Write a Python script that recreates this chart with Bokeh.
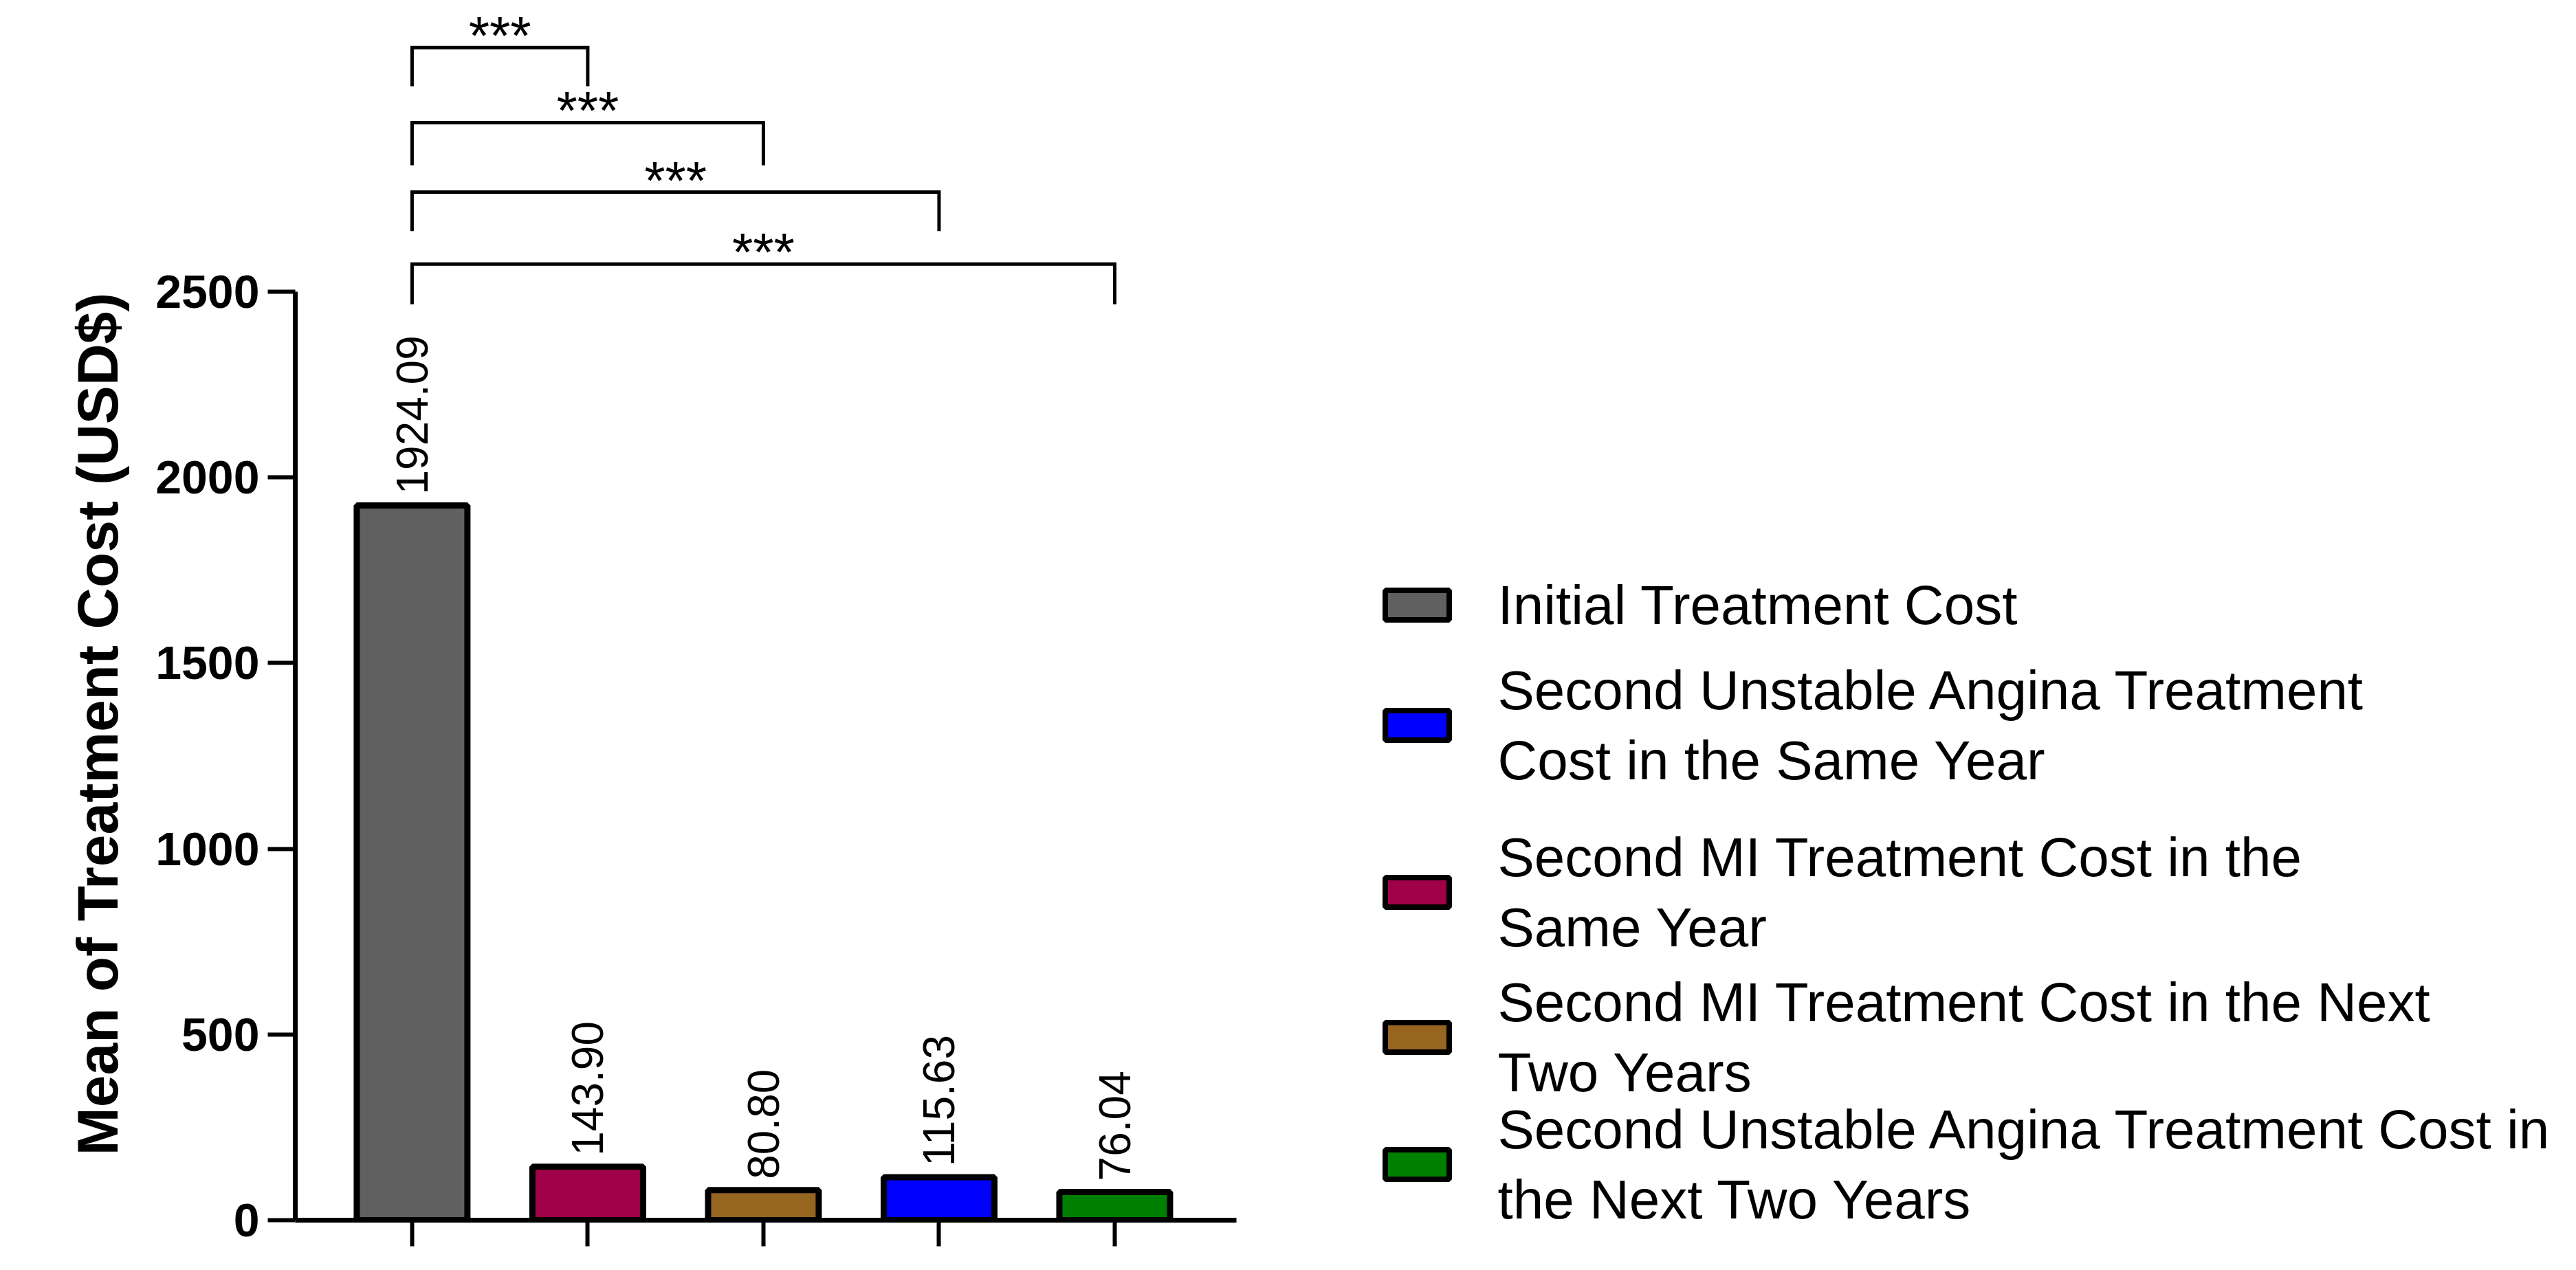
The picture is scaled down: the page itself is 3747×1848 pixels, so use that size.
import math
from bokeh.plotting import figure
from bokeh.models import Range1d, FixedTicker, ColumnDataSource
from bokeh.layouts import row
from bokeh.embed import file_html
from bokeh.resources import INLINE
from bokeh.core.properties import value

# ---------------- data ----------------
categories = [
    "Initial Treatment Cost",
    "Second MI Treatment Cost in the Same Year",
    "Second MI Treatment Cost in the Next Two Years",
    "Second Unstable Angina Treatment Cost in the Same Year",
    "Second Unstable Angina Treatment Cost in the Next Two Years",
]
costs = [1924.09, 143.90, 80.80, 115.63, 76.04]
bar_colors = ["#606060", "#A00048", "#966520", "#0000FF", "#008000"]
y_ticks = [0, 500, 1000, 1500, 2000, 2500]

# significance brackets (bar index pairs, 1-based) and their heights in data units
sig_pairs = [(1, 2), (1, 3), (1, 4), (1, 5)]
sig_labels = ["***", "***", "***", "***"]
bracket_top = [3157, 2955, 2768, 2574]
bracket_end = [3053, 2840, 2663, 2466]

# legend (order as in the reference)
legend_order = [0, 3, 1, 2, 4]
legend_text = [
    "Initial Treatment Cost",
    "Second Unstable Angina Treatment\nCost in the Same Year",
    "Second MI Treatment Cost in the\nSame Year",
    "Second MI Treatment Cost in the Next\nTwo Years",
    "Second Unstable Angina Treatment Cost in\nthe Next Two Years",
]
y_title = "Mean of Treatment Cost (USD$)"

# ---------------- layout / style ----------------
FONT = "Liberation Sans"
H = 1832
W_TITLE, W_MAIN, W_LEG = 200, 1760, 1771
TOP, BOTTOM = 5, 57           # frames occupy canvas y 5 .. 1775
legend_rows_y = [880, 1055, 1298, 1509, 1694]

xs = list(range(1, len(costs) + 1))


def blank_panel(width):
    f = figure(width=width, height=H, x_range=Range1d(0, width),
               y_range=Range1d(H - BOTTOM, TOP),
               x_axis_type=None, y_axis_type=None, output_backend="svg",
               toolbar_location=None, min_border_left=0, min_border_right=0,
               min_border_top=TOP, min_border_bottom=BOTTOM)
    f.grid.visible = False
    f.outline_line_color = None
    return f


# ---------------- y title panel ----------------
tp = blank_panel(W_TITLE)
tp.text(x=[141], y=[1053], text=[y_title], angle=math.pi / 2,
        text_align="center", text_baseline="middle",
        text_font=value(FONT), text_font_style="bold",
        text_font_size="84px", text_color="black")

# ---------------- main chart ----------------
p = figure(width=W_MAIN, height=H,
           x_range=Range1d(0.335, 5.693), y_range=Range1d(0, 3275),
           output_backend="svg", toolbar_location=None,
           min_border_left=229, min_border_right=W_MAIN - 1598,
           min_border_top=TOP, min_border_bottom=BOTTOM)
p.grid.visible = False
p.outline_line_color = None
p.background_fill_color = "white"

src = ColumnDataSource(dict(x=xs, top=costs, color=bar_colors, cat=categories,
                            lab=[f"{v:.2f}" for v in costs]))
p.vbar(x="x", top="top", bottom=0, width=0.63, fill_color="color",
       line_color="black", line_width=9, source=src)

p.text(x="x", y="top", text="lab", source=src, angle=math.pi / 2,
       text_align="left", text_baseline="middle", y_offset=-16,
       text_font=value(FONT), text_font_size="64px", text_color="black")

# significance brackets
bx, by = [], []
for (a, b), t, e in zip(sig_pairs, bracket_top, bracket_end):
    bx.append([a, a, b, b])
    by.append([e, t, t, e])
p.multi_line(xs=bx, ys=by, line_color="black", line_width=5, line_join="miter")
p.text(x=[(a + b) / 2 for a, b in sig_pairs], y=bracket_top, text=sig_labels,
       text_align="center", text_baseline="alphabetic", y_offset=-17,
       text_font=value(FONT), text_font_size="78px", text_color="black")

# axes
p.xaxis.ticker = FixedTicker(ticks=xs)
p.xaxis.major_label_overrides = {i: "" for i in xs}
p.xaxis.major_label_standoff = 0
p.xaxis.major_tick_out = 38
p.xaxis.major_tick_in = 0
p.xaxis.minor_tick_line_color = None
p.xaxis.major_tick_line_width = 6
p.xaxis.axis_line_width = 7

p.yaxis.ticker = FixedTicker(ticks=y_ticks)
p.yaxis.bounds = (0, 2500)
p.yaxis.major_tick_out = 40
p.yaxis.major_tick_in = 0
p.yaxis.minor_tick_line_color = None
p.yaxis.major_tick_line_width = 6
p.yaxis.axis_line_width = 7
p.yaxis.major_label_standoff = 12
p.yaxis.major_label_text_font = FONT
p.yaxis.major_label_text_font_style = "bold"
p.yaxis.major_label_text_font_size = "68px"
p.yaxis.major_label_text_color = "black"

# ---------------- legend panel ----------------
leg = blank_panel(W_LEG)
leg.rect(x=[101] * len(legend_order), y=legend_rows_y, width=93, height=43,
         fill_color=[bar_colors[i] for i in legend_order],
         line_color="black", line_width=8)
leg.text(x=[218] * len(legend_order), y=legend_rows_y, text=legend_text,
         text_align="left", text_baseline="middle", text_line_height=1.15,
         text_font=value(FONT), text_font_size="80px", text_color="black")

layout = row(tp, p, leg)
open("out.html", "w").write(file_html(layout, INLINE))
